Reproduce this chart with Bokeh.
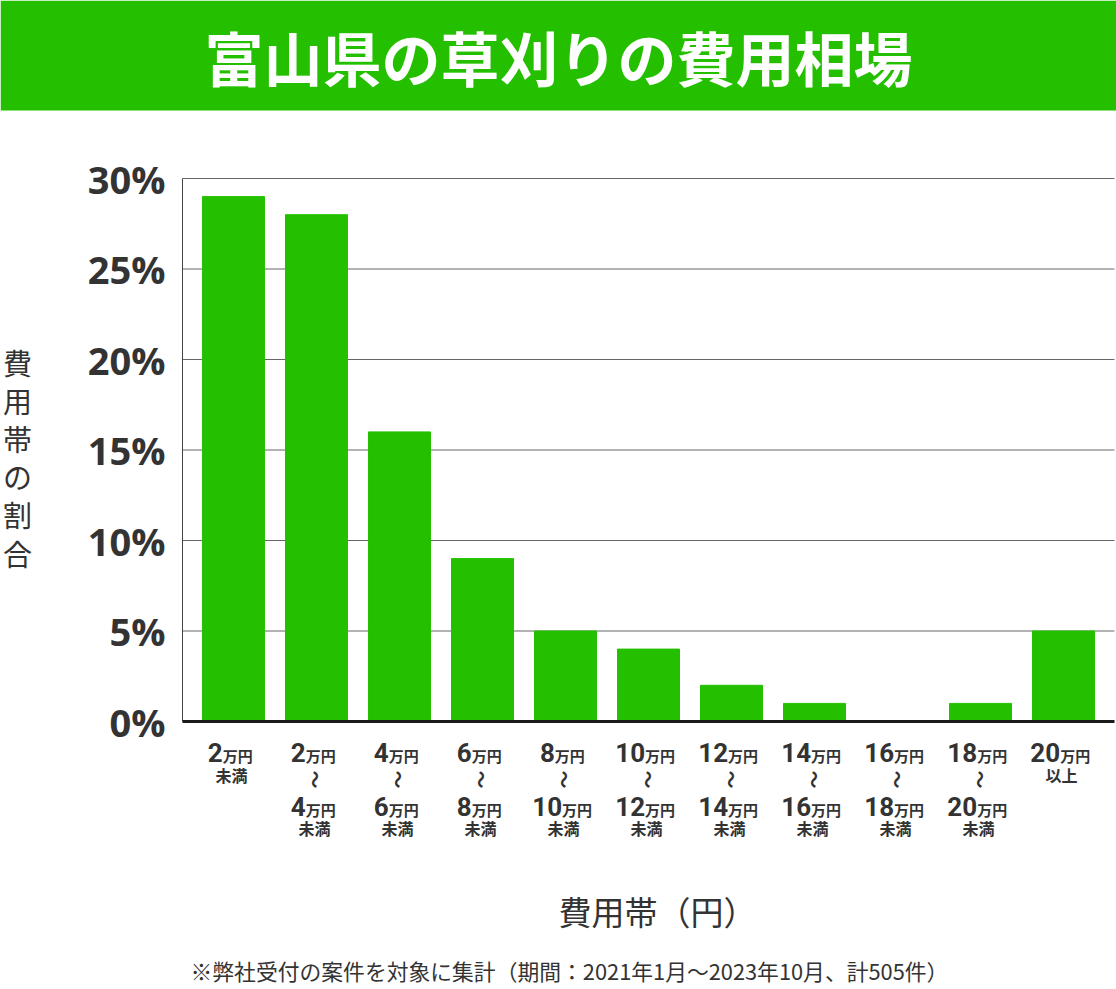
import math
from bokeh.plotting import figure
from bokeh.models import Range1d, Label, BoxAnnotation
from bokeh.core.properties import value
from bokeh.embed import file_html
from bokeh.resources import INLINE

# ---------------- data ----------------
title_text = "富山県の草刈りの費用相場"
band_low = ["", "2", "4", "6", "8", "10", "12", "14", "16", "18", "20"]
band_high = ["2", "4", "6", "8", "10", "12", "14", "16", "18", "20", ""]
shares = [29, 28, 16, 9, 5, 4, 2, 1, 0, 1, 5]
y_ticks = [0, 5, 10, 15, 20, 25, 30]
y_tick_labels = ["0%", "5%", "10%", "15%", "20%", "25%", "30%"]
unit_word = "万円"
under_word = "未満"
over_word = "以上"
wave_mark = "〜"
x_axis_title = "費用帯（円）"
y_axis_title = "費用帯の割合"
footnote = "※弊社受付の案件を対象に集計（期間：2021年1月～2023年10月、計505件）"

# ---------------- layout / style ----------------
W, H = 1116, 989
PLOT_L, PLOT_R, PLOT_T, PLOT_B = 182, 1114, 178, 721
PAD = 0.614           # category padding at each side of the plot area
BAR_W = 0.747
Y_MAX = 30
GREEN = "#24C000"
TEXT = "#333333"
JP = "Noto Sans CJK JP"

n = len(shares)
xs = list(range(n))
pitch = (PLOT_R - PLOT_L) / (n - 1 + 2 * PAD)
ppu = (PLOT_B - PLOT_T) / Y_MAX
x_lo, x_hi = -PAD, n - 1 + PAD
x_range = Range1d(x_lo - PLOT_L / pitch, x_hi + (W - PLOT_R) / pitch)
y_range = Range1d(-(H - PLOT_B) / ppu, Y_MAX + PLOT_T / ppu)

p = figure(width=W, height=H, toolbar_location=None, output_backend="svg",
           x_range=x_range, y_range=y_range, min_border=0,
           x_axis_location=None, y_axis_location=None)
p.outline_line_color = None
p.grid.visible = False
p.background_fill_color = "white"
p.border_fill_color = "white"


def sy(canvas_y):
    """screen units are measured upward from the bottom of the canvas"""
    return H - canvas_y


# title band
p.add_layout(BoxAnnotation(left=0, right=W, bottom=sy(110), top=H,
                           left_units="screen", right_units="screen",
                           bottom_units="screen", top_units="screen",
                           fill_color=GREEN, fill_alpha=1, line_color=None))
p.add_layout(Label(x=W / 2, y=sy(56), x_units="screen", y_units="screen", text=title_text,
                   text_align="center", text_baseline="middle", text_font=JP,
                   text_font_style="bold", text_font_size="59px", text_color="white"))

# grid lines
grid_vals = y_ticks[1:]
p.segment(x0=[x_lo] * len(grid_vals), x1=[x_hi] * len(grid_vals), y0=grid_vals, y1=grid_vals,
          line_color="#666666", line_width=1)

# bars
p.vbar(x=xs, top=shares, width=BAR_W, fill_color=GREEN, line_color=GREEN)

# axis lines
p.segment(x0=[x_lo], x1=[x_lo], y0=[y_ticks[0]], y1=[y_ticks[-1]], line_color="#444444", line_width=1)
p.segment(x0=[x_lo], x1=[x_hi], y0=[0], y1=[0], line_color="#1a1a1a", line_width=3)

# y tick labels
p.text(x=[x_lo] * len(y_ticks), y=y_ticks, text=y_tick_labels, x_offset=-17,
       text_align="right", text_baseline="middle", text_font=value("Open Sans"),
       text_font_style="bold", text_font_size="38px", text_color=TEXT)

# y axis title (stacked characters)
for k, ch in enumerate(y_axis_title):
    p.add_layout(Label(x=17, y=sy(361 + 38.2 * k), x_units="screen", y_units="screen", text=ch,
                       text_align="center", text_baseline="middle", text_font=JP,
                       text_font_size="29px", text_color=TEXT))

# x axis title
p.add_layout(Label(x=(PLOT_L + PLOT_R) / 2 + 9, y=sy(910), x_units="screen", y_units="screen",
                   text=x_axis_title, text_align="center", text_baseline="middle",
                   text_font=JP, text_font_size="33px", text_color=TEXT))

# ---------------- category labels under bars ----------------
DIGIT_W = 14.6
UNIT_W = 30.0


def amount(i, num, cy):
    j = (DIGIT_W * len(num) - UNIT_W) / 2.0 - 3
    p.add_layout(Label(x=i, y=sy(cy), y_units="screen", x_offset=j, text=num,
                       text_align="right", text_baseline="middle", text_font="Roboto",
                       text_font_style="bold", text_font_size="26px", text_color=TEXT))
    p.add_layout(Label(x=i, y=sy(cy + 3), y_units="screen", x_offset=j, text=unit_word,
                       text_align="left", text_baseline="middle", text_font=JP,
                       text_font_style="bold", text_font_size="15px", text_color=TEXT))


def word(i, txt, cy):
    p.add_layout(Label(x=i, y=sy(cy), y_units="screen", x_offset=-2, text=txt,
                       text_align="center", text_baseline="middle", text_font=JP,
                       text_font_style="bold", text_font_size="16px", text_color=TEXT))


def wave(i, cy):
    p.add_layout(Label(x=i, y=sy(cy), y_units="screen", x_offset=-2, text=wave_mark,
                       angle=math.pi / 2, text_align="center", text_baseline="middle",
                       text_font=JP, text_font_style="bold", text_font_size="18px",
                       text_color=TEXT))


for i, (lo, hi) in enumerate(zip(band_low, band_high)):
    if lo == "":
        amount(i, hi, 752)
        word(i, under_word, 774)
    elif hi == "":
        amount(i, lo, 752)
        word(i, over_word, 774)
    else:
        amount(i, lo, 752)
        wave(i, 779)
        amount(i, hi, 806)
        word(i, under_word, 827)

# ---------------- footnote ----------------
p.add_layout(Label(x=190, y=sy(970), x_units="screen", y_units="screen", text=footnote,
                   text_align="left", text_baseline="middle", text_font=JP,
                   text_font_size="21.8px", text_color=TEXT))

open("out.html", "w").write(file_html(p, INLINE))
